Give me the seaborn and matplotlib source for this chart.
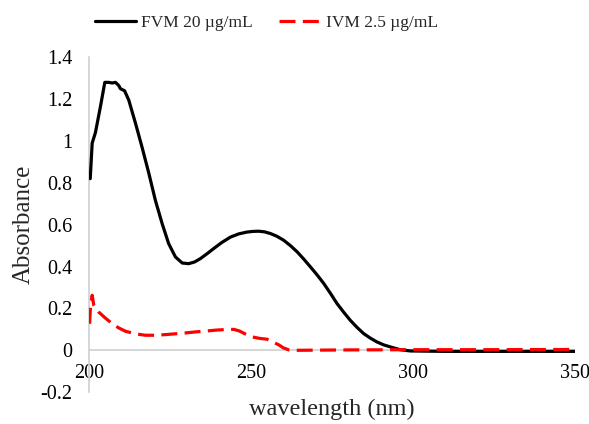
import matplotlib
matplotlib.use("Agg")
import matplotlib.pyplot as plt
import seaborn as sns
import pandas as pd

# FVM 20 ug/mL spectrum
fvm_wl = [200.4, 201, 202, 203.5, 204.9, 206.1, 207.2, 208.2, 209.2, 209.7,
          211, 212.3, 214.4, 216.4, 218.5, 220.5, 222.6, 224.6, 226.7, 228.8,
          230.8, 232.6, 234.4, 236.5, 238.5, 241, 243.7, 246.2, 248.8, 250.6,
          252.4, 254.2, 256, 258, 260.1, 262.2, 264.3, 266.3, 268.4, 270.5,
          272.5, 274.6, 276.6, 278.7, 280.7, 282.8, 284.8, 286.9, 288.9, 291,
          293.1, 296.1, 299.2, 310, 320, 330, 340, 350]
fvm_abs = [0.82, 0.99, 1.04, 1.16, 1.28, 1.28, 1.277, 1.28, 1.265, 1.25,
           1.24, 1.195, 1.083, 0.97, 0.845, 0.717, 0.605, 0.51, 0.446, 0.417,
           0.414, 0.422, 0.438, 0.462, 0.486, 0.515, 0.541, 0.556, 0.565, 0.568,
           0.569, 0.566, 0.558, 0.545, 0.526, 0.5, 0.47, 0.436, 0.398, 0.359,
           0.319, 0.271, 0.223, 0.181, 0.143, 0.109, 0.08, 0.058, 0.04, 0.026,
           0.016, 0.003, -0.003, -0.005, -0.005, -0.005, -0.005, -0.005]

# IVM 2.5 ug/mL spectrum
ivm_wl = [200.2, 200.5, 201, 201.5, 203, 205, 207.2, 209.2, 211.3, 214.3,
          217.4, 220.5, 223.6, 226.7, 229.8, 232.9, 236, 239.6, 243.2, 244.8,
          246.5, 248.4, 250.4, 252.7, 255, 256.8, 258.6, 260, 261.7, 263,
          280, 300, 320, 350]
ivm_abs = [0.127, 0.215, 0.263, 0.215, 0.183, 0.155, 0.127, 0.107, 0.091, 0.079,
           0.072, 0.072, 0.075, 0.079, 0.083, 0.088, 0.092, 0.097, 0.1, 0.1,
           0.092, 0.077, 0.064, 0.057, 0.053, 0.04, 0.026, 0.012, 0.002, 0.0,
           0.002, 0.003, 0.003, 0.004]

labels = ["FVM 20 \u00b5g/mL", "IVM 2.5 \u00b5g/mL"]

df = pd.concat([
    pd.DataFrame({"wl": fvm_wl, "abs": fvm_abs, "sample": labels[0]}),
    pd.DataFrame({"wl": ivm_wl, "abs": ivm_abs, "sample": labels[1]}),
])

sns.set_style("white")
plt.rcParams["font.family"] = ["Liberation Serif", "DejaVu Serif"]

fig = plt.figure(figsize=(5.89, 4.24), dpi=100)
ax = fig.add_axes([0.151, 0.075, 0.825, 0.79])

ax.axhline(0, color="#d0d0d0", lw=1.2, zorder=1)
sns.lineplot(data=df, x="wl", y="abs", hue="sample", style="sample",
             palette=["black", "#ff0000"], dashes=[(None, None), (5, 2.3)],
             linewidth=2.3, sort=False, estimator=None, ax=ax, zorder=3)

ax.set_xlim(200, 350)
ax.set_ylim(-0.2, 1.4)
ax.set_xticks([200, 250, 300, 350])
ax.set_yticks([-0.2, 0, 0.2, 0.4, 0.6, 0.8, 1.0, 1.2, 1.4])
ax.set_yticklabels(["-0.2", "0", "0.2", "0.4", "0.6", "0.8", "1", "1.2", "1.4"])
ax.tick_params(axis="both", labelsize=14.5, length=0, colors="black")
ax.tick_params(axis="y", pad=12)

# x tick labels sit just below the zero line, like in the spreadsheet chart
shift = matplotlib.transforms.ScaledTranslation(0, 0.33, fig.dpi_scale_trans)
for lbl in ax.get_xticklabels():
    lbl.set_transform(lbl.get_transform() + shift)

for s in ["top", "right", "bottom"]:
    ax.spines[s].set_visible(False)
ax.spines["left"].set_color("#d0d0d0")
ax.spines["left"].set_linewidth(1.2)

ax.set_xlabel("wavelength (nm)", fontsize=17.5, labelpad=5)
ax.set_ylabel("Absorbance", fontsize=18, labelpad=4)

handles, _ = ax.get_legend_handles_labels()
ax.legend(handles=handles, labels=labels, loc="center",
          bbox_to_anchor=(0.452, 0.945), bbox_transform=fig.transFigure,
          ncol=2, frameon=False, fontsize=12.5,
          handlelength=2.4, handletextpad=0.3, columnspacing=1.5)

fig.savefig("out.png", dpi=100)
